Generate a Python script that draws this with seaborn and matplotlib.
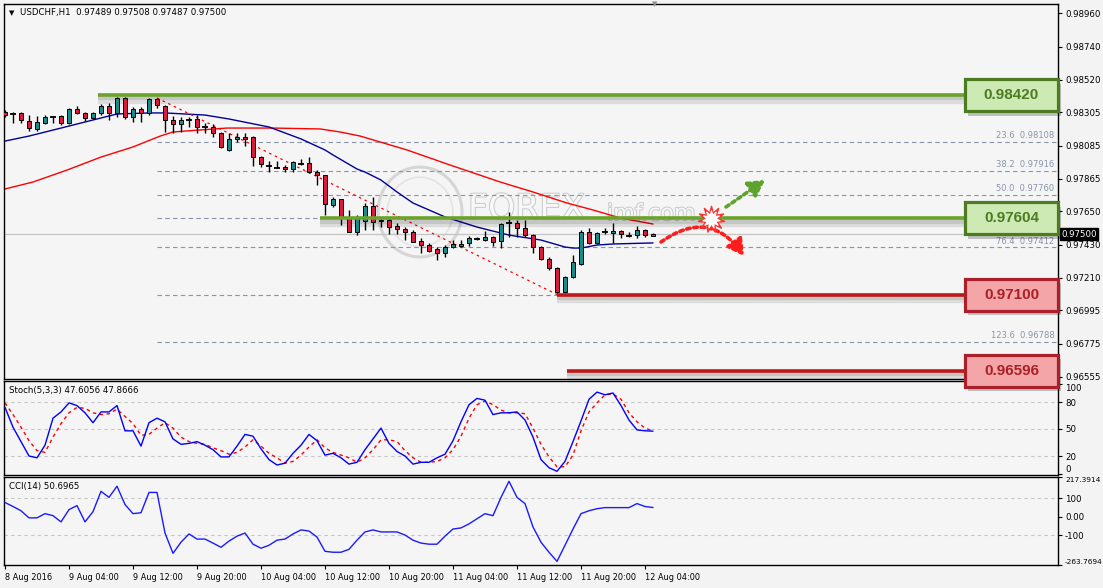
import matplotlib
matplotlib.use('Agg')
import matplotlib.pyplot as plt
import matplotlib.patheffects as pe
from matplotlib.patches import Rectangle, Ellipse
from matplotlib.text import Text
from matplotlib.transforms import blended_transform_factory
import numpy as np
import pandas as pd
import seaborn as sns

# ---------------- data ----------------
symbol = 'USDCHF,H1'
last_ohlc = ['0.97489', '0.97508', '0.97487', '0.97500']

opens = [0.98308,0.98302,0.98302,0.98249,0.98196,0.98235,0.98275,0.98282,0.98235,0.98328,
         0.98302,0.98268,0.98302,0.98348,0.98302,0.98401,0.98275,0.98328,0.98302,0.98394,
         0.98348,0.98255,0.98229,0.98255,0.98262,0.98209,0.98209,0.98169,0.98057,0.98130,
         0.98143,0.98143,0.98010,0.97951,0.97944,0.97944,0.97931,0.97971,0.97971,0.97911,
         0.97891,0.97693,0.97733,0.97614,0.97514,0.97587,0.97687,0.97587,0.97594,0.97554,
         0.97534,0.97514,0.97455,0.97428,0.97402,0.97375,0.97415,0.97422,0.97442,0.97468,
         0.97461,0.97481,0.97455,0.97571,0.97574,0.97541,0.97494,0.97415,0.97336,0.97276,
         0.97117,0.97217,0.97302,0.97514,0.97442,0.97511,0.97508,0.97521,0.97488,0.97494,
         0.97527,0.97489]
highs = [0.98321,0.98308,0.98305,0.98288,0.98282,0.98288,0.98282,0.98288,0.98335,0.98348,
         0.98308,0.98308,0.98361,0.98368,0.98407,0.98407,0.98341,0.98341,0.98401,0.98401,
         0.98354,0.98282,0.98275,0.98275,0.98288,0.98235,0.98229,0.98176,0.98169,0.98169,
         0.98169,0.98149,0.98017,0.97984,0.97984,0.97958,0.97984,0.97997,0.98010,0.97924,
         0.97891,0.97746,0.97733,0.97660,0.97627,0.97706,0.97746,0.97614,0.97614,0.97574,
         0.97547,0.97527,0.97475,0.97442,0.97415,0.97428,0.97461,0.97461,0.97488,0.97481,
         0.97521,0.97488,0.97574,0.97646,0.97594,0.97594,0.97501,0.97422,0.97349,0.97283,
         0.97223,0.97362,0.97527,0.97541,0.97514,0.97541,0.97574,0.97527,0.97514,0.97554,
         0.97534,0.97508]
lows = [0.98275,0.98235,0.98235,0.98182,0.98182,0.98229,0.98235,0.98222,0.98229,0.98295,
        0.98249,0.98262,0.98288,0.98255,0.98275,0.98262,0.98242,0.98242,0.98288,0.98335,
        0.98176,0.98169,0.98176,0.98209,0.98169,0.98169,0.98143,0.98070,0.98050,0.98110,
        0.98083,0.97951,0.97944,0.97911,0.97938,0.97911,0.97911,0.97958,0.97905,0.97825,
        0.97627,0.97680,0.97561,0.97514,0.97494,0.97527,0.97527,0.97547,0.97501,0.97501,
        0.97461,0.97448,0.97375,0.97382,0.97329,0.97349,0.97408,0.97415,0.97422,0.97461,
        0.97455,0.97422,0.97408,0.97481,0.97481,0.97481,0.97375,0.97329,0.97263,0.97101,
        0.97108,0.97210,0.97296,0.97435,0.97435,0.97501,0.97442,0.97475,0.97481,0.97475,
        0.97481,0.97487]
closes = [0.98288,0.98298,0.98255,0.98202,0.98242,0.98275,0.98272,0.98235,0.98328,0.98302,
          0.98268,0.98302,0.98348,0.98302,0.98401,0.98275,0.98328,0.98302,0.98394,0.98354,
          0.98255,0.98229,0.98255,0.98252,0.98209,0.98206,0.98169,0.98077,0.98130,0.98143,
          0.98130,0.98010,0.97964,0.97948,0.97941,0.97931,0.97977,0.97967,0.97911,0.97891,
          0.97700,0.97733,0.97607,0.97514,0.97607,0.97687,0.97580,0.97594,0.97547,0.97534,
          0.97514,0.97448,0.97428,0.97389,0.97375,0.97415,0.97435,0.97435,0.97475,0.97470,
          0.97481,0.97448,0.97567,0.97574,0.97541,0.97494,0.97415,0.97336,0.97276,0.97117,
          0.97217,0.97316,0.97514,0.97442,0.97508,0.97514,0.97521,0.97501,0.97491,0.97527,
          0.97494,0.97500]

# moving averages (bar index, price)
ma_fast_bar = [0, 3, 7, 10, 14, 18, 20, 25, 28, 33, 37, 40, 41, 44, 45, 47, 49, 51, 55, 59, 63, 67, 70, 71, 72, 74, 76, 81]
ma_fast_val = [0.98116, 0.98149, 0.98202, 0.98242, 0.98295, 0.98302, 0.98302, 0.98288, 0.98262, 0.98209,
               0.98130, 0.98057, 0.98024, 0.97931, 0.97911, 0.97858, 0.97779, 0.97706, 0.97614, 0.97547,
               0.97494, 0.97461, 0.97415, 0.97408, 0.97408, 0.97428, 0.97435, 0.97442]
ma_slow_bar = [0, 3.5, 7.75, 12, 16, 19.4, 21, 22.75, 27.75, 33.5, 39.4, 41.9, 44.4, 50.25, 55.6, 61.9, 66, 70.25, 73.5, 76.9, 81]
ma_slow_val = [0.97799, 0.97845, 0.97924, 0.98010, 0.98077, 0.98149, 0.98176, 0.98183, 0.98202, 0.98202,
               0.98196, 0.98176, 0.98149, 0.98057, 0.97958, 0.97845, 0.97779, 0.97706, 0.97660, 0.97607, 0.97567]

stoch_k = [74,52,36,20,18,32,62,69,79,76, 68,57,69,69,76,48,48,31,57,62,
           58,39,33,34,36,32,27,19,19,31, 44,42,28,16,10,12,23,32,44,37,
           21,23,18,11,13,27,39,51,34,25, 20,11,13,13,18,22,37,58,77,84,
           82,66,68,68,69,60,41,16,7,3, 14,36,59,83,91,88,90,76,60,49, 48,47.6056]
stoch_d = [79,66,52,37,26,24,41,56,68,74, 73,68,66,67,72,64,56,43,44,51,
           57,51,41,36,34,33,29,26,22,24, 30,38,31,23,18,12,14,21,30,38,
           29,24,21,18,13,18,27,38,38,36, 26,18,13,13,14,18,27,42,62,77,
           81,77,71,68,68,67,51,33,19,8, 8,21,48,69,79,88,89,83,68,58, 51,47.8666]
cci = [78,56,33,-6,-6,17,6,-28,39,61, -28,28,139,106,167,67,17,22,133,133,
       -89,-200,-139,-94,-122,-122,-144,-167,-133,-106, -89,-150,-172,-156,-128,-122,-94,-72,-78,-111,
       -189,-194,-194,-178,-128,-83,-72,-83,-83,-83, -100,-128,-144,-150,-150,-106,-67,-61,-39,-11,
       17,6,106,194,106,72,-56,-139,-194,-244, -156,-67,17,33,44,50,50,50,50,72, 56,50.6965]

time_labels = ['8 Aug 2016', '9 Aug 04:00', '9 Aug 12:00', '9 Aug 20:00', '10 Aug 04:00',
               '10 Aug 12:00', '10 Aug 20:00', '11 Aug 04:00', '11 Aug 12:00', '11 Aug 20:00',
               '12 Aug 04:00']
price_ticks = [0.98960, 0.98740, 0.98520, 0.98305, 0.98085, 0.97865, 0.97650, 0.97430,
               0.97210, 0.96995, 0.96775, 0.96555]
fib_ratios = [0.0, 23.6, 38.2, 50.0, 61.8, 76.4, 100.0, 123.6]
fib_prices = [0.98420, 0.98108, 0.97916, 0.97760, 0.97604, 0.97412, 0.97100, 0.96788]
key_levels = [0.98420, 0.97604, 0.97100, 0.96596]
current_price = 0.97500
stoch_levels = [80, 50, 20]
cci_levels = [100, -100]
stoch_ticks = [100, 80, 50, 20, 0]
cci_ticks = [217.3914, 100, 0, -100, -263.7694]
cci_tick_labels = ['217.3914', '100', '0.00', '-100', '-263.7694']

# ---------------- layout / style ----------------
W, H = 1103, 588
sns.set_theme(style='white')
plt.rcParams['font.family'] = ['DejaVu Sans']
FS = 6.2

def PX(xp, yp):
    """image pixel -> (bar, price) for decorations"""
    return ((xp - 5) / 8.0, 0.990492 - 6.616e-5 * yp)

fig = plt.figure(figsize=(W / 100, H / 100), dpi=100, facecolor='#f3f3f3')

def rect(top, bottom, left=4, right=1058):
    return [left / W, 1 - bottom / H, (right - left) / W, (bottom - top) / H]

ax = fig.add_axes(rect(4, 379))
ax_st = fig.add_axes(rect(381, 475))
ax_cc = fig.add_axes(rect(477, 565))
BG = '#f5f5f5'
for a in (ax, ax_st, ax_cc):
    a.set_facecolor(BG)
    for s in a.spines.values():
        s.set_color('black')
        s.set_linewidth(1)
    a.set_xlim(-0.125, 131.625)
    a.yaxis.tick_right()
    a.tick_params(axis='y', direction='out', length=3, width=0.8, pad=2,
                  labelsize=FS, colors='black', left=False, right=True)
    a.tick_params(axis='x', bottom=False, labelbottom=False, top=False)
    a.grid(False)

df = pd.DataFrame({'bar': np.arange(len(opens)), 'open': opens, 'high': highs,
                   'low': lows, 'close': closes})

# ---------------- main panel ----------------
ax.set_ylim(PX(0, 379)[1], PX(0, 4)[1])
ax.set_yticks(price_ticks)
ax.set_yticklabels([f'{p:.5f}' for p in price_ticks])

# fibonacci (labels of levels hidden under the key-level boxes are not drawn)
fib_start = PX(157, 0)[0]
ax.hlines(fib_prices, fib_start, 131.625, colors='#8795aa', linestyles=(0, (4, 3)), lw=0.8, zorder=1)
for r, p in zip(fib_ratios, fib_prices):
    if any(abs(p - k) < 1e-6 for k in key_levels):
        continue
    ax.text(131.2, p + 0.00012, f'{r:.1f}  {p:.5f}', ha='right', va='bottom',
            fontsize=FS - 0.2, color='#8795aa', zorder=1.2)

# current price line
ax.axhline(current_price, color='#c4c4c4', lw=0.9, zorder=1.1)

# watermark
wc = PX(420, 212)
ax.add_patch(Ellipse(wc, 10.5, 0.00595, fill=False, ec='#d6d6d6', lw=2.2, zorder=0.8))
ax.add_patch(Ellipse(wc, 8.2, 0.0046, fill=False, ec='#e3e3e3', lw=1.2, zorder=0.8))
wm_eff = [pe.withStroke(linewidth=1.4, foreground='#c9c9c9')]
ax.text(*PX(468, 209), 'FOREX', fontsize=25, color='#f8f8f8', ha='left', va='center',
        zorder=0.9, path_effects=wm_eff)
ax.text(*PX(607, 214), 'imf.com', fontsize=16, color='#f8f8f8', ha='left', va='center',
        zorder=0.9, path_effects=wm_eff)

# moving averages
sns.lineplot(x=ma_slow_bar, y=ma_slow_val, ax=ax, color='#ff0000', lw=1, zorder=2, legend=False)
sns.lineplot(x=ma_fast_bar, y=ma_fast_val, ax=ax, color='#000099', lw=1, zorder=2, legend=False)

# trend line from swing high to swing low
hi_i, lo_i = 19, 69
ax.plot([hi_i, lo_i], [highs[hi_i], lows[lo_i]], color='#ff0000', lw=0.9, ls=(0, (2, 3)), zorder=2)

# candles
bull_c, bear_c = '#138c8c', '#dc1a3e'
ax.vlines(df['bar'], df['low'], df['high'], color='black', lw=1, zorder=3)
for _, r in df.iterrows():
    b, o, c = r['bar'], r['open'], r['close']
    if abs(c - o) < 5e-5:
        ax.hlines(c, b - 0.33, b + 0.33, color='black', lw=1.3, zorder=4)
    else:
        ax.add_patch(Rectangle((b - 0.3, min(o, c)), 0.6, abs(c - o),
                               fc=bull_c if c > o else bear_c, ec='black', lw=0.7, zorder=4))

# key levels with shadows
lvl_green, lvl_red = '#6aa22a', '#c01818'
level_colors = [lvl_green, lvl_green, lvl_red, lvl_red]
level_starts = [PX(98, 0)[0], PX(320, 0)[0], PX(557, 0)[0], PX(567, 0)[0]]
box_left = PX(965, 0)[0]
for lvl, col, st in zip(key_levels, level_colors, level_starts):
    ax.hlines(lvl - 0.00030, st, box_left, color='black', alpha=0.10, lw=6, zorder=2.4)
    ax.hlines(lvl - 0.00022, st, box_left, color='black', alpha=0.10, lw=3, zorder=2.4)
    ax.hlines(lvl, st, box_left, color=col, lw=2.6, zorder=5)

# label boxes
hh = 16 * 6.616e-5
box_w = 131.625 - box_left
box_styles = [('#cdeab4', '#4e7b22'), ('#cdeab4', '#4e7b22'), ('#f3a5a8', '#a8202a'), ('#f3a5a8', '#a8202a')]
for lvl, (fc, ec) in zip(key_levels, box_styles):
    sh = Rectangle((box_left + 0.35, lvl - hh - 0.00030), box_w, 2 * hh, transform=ax.transData,
                   fc='black', alpha=0.22, ec='none', zorder=4)
    fig.add_artist(sh)
    bx = Rectangle((box_left, lvl - hh), box_w, 2 * hh, transform=ax.transData,
                   fc=fc, ec=ec, lw=2.3, zorder=5)
    fig.add_artist(bx)
    tx = Text(box_left + box_w / 2, lvl, f'{lvl:.5f}', transform=ax.transData, ha='center',
              va='center', fontsize=11, fontweight='bold', family='Liberation Sans', color=ec, zorder=6)
    fig.add_artist(tx)

# current price tag
bt = blended_transform_factory(ax.transAxes, ax.transData)
ax.text(1.003, current_price, '0.97500', transform=bt, ha='left', va='center', fontsize=FS,
        color='white', clip_on=False, zorder=7,
        bbox=dict(boxstyle='square,pad=0.15', fc='black', ec='black'))

# scenario arrows + burst
ax.annotate('', xy=PX(765, 180), xytext=PX(726, 207),
            arrowprops=dict(arrowstyle='-|>,head_length=0.8,head_width=0.45', color='#5ea22e',
                            lw=2.6, linestyle=(0, (1, 1)), shrinkA=0, shrinkB=0), zorder=6)
ax.annotate('', xy=PX(744, 256), xytext=PX(661, 242),
            arrowprops=dict(arrowstyle='-|>,head_length=0.8,head_width=0.45', color='#ff1c1c',
                            lw=2.6, linestyle=(0, (1, 1)), shrinkA=0, shrinkB=0,
                            connectionstyle='arc3,rad=-0.5'), zorder=6)
bx_, by_ = PX(711, 219)
ax.scatter([bx_], [by_], marker=(11, 1, 0), s=360, c='#ff3030', edgecolors='#ff3030', zorder=7)
ax.scatter([bx_], [by_], marker=(11, 1, 0), s=150, c='white', edgecolors='white', zorder=7.1)

# ---------------- stochastic ----------------
bars = np.arange(len(stoch_k))
ax_st.set_ylim(20 - 19 / 0.9, 80 + 21 / 0.9)
for lv in stoch_levels:
    ax_st.axhline(lv, color='#c6c6c6', lw=0.8, ls=(0, (3, 3)), zorder=1)
sns.lineplot(x=bars, y=stoch_k, ax=ax_st, color='#0000ff', lw=1, legend=False, zorder=3)
sns.lineplot(x=bars, y=stoch_d, ax=ax_st, color='#ff0000', lw=1, linestyle=(0, (2.5, 2.5)),
             legend=False, zorder=2)
ax_st.set_yticks(stoch_ticks)
ax_st.set_yticklabels([str(v) for v in stoch_ticks])
labs = ax_st.get_yticklabels()
labs[0].set_va('top')
labs[-1].set_va('bottom')

# ---------------- CCI ----------------
ax_cc.set_ylim(cci_ticks[-1], cci_ticks[0])
for lv in cci_levels:
    ax_cc.axhline(lv, color='#c6c6c6', lw=0.8, ls=(0, (3, 3)), zorder=1)
sns.lineplot(x=np.arange(len(cci)), y=cci, ax=ax_cc, color='#1a1aff', lw=1, legend=False, zorder=3)
ax_cc.set_yticks(cci_ticks)
ax_cc.set_yticklabels(cci_tick_labels)
labs = ax_cc.get_yticklabels()
labs[0].set_va('top')
labs[-1].set_va('bottom')
for lab in (labs[0], labs[-1]):
    lab.set_fontsize(5.3)

ax_cc.set_xticks(np.arange(0, 8 * len(time_labels), 8))
ax_cc.set_xticklabels(time_labels, ha='left')
ax_cc.tick_params(axis='x', bottom=True, labelbottom=True, direction='out', length=3, width=0.8,
                  pad=3, labelsize=FS - 0.3, colors='black')
for a in (ax, ax_st, ax_cc):
    a.set_xlabel('')
    a.set_ylabel('')

# ---------------- titles ----------------
def ftext(xp, yp, s, **kw):
    fig.text(xp / W, 1 - yp / H, s, **kw)

ftext(12, 13, '\u25bc', fontsize=5, ha='center', va='center', color='black')
ftext(20, 13, f"{symbol}  {' '.join(last_ohlc)}", fontsize=FS, ha='left', va='center', color='black')
ftext(9, 390, f'Stoch(5,3,3) {stoch_k[-1]:.4f} {stoch_d[-1]:.4f}', fontsize=FS, ha='left',
      va='center', color='black')
ftext(9, 487, f'CCI(14) {cci[-1]:.4f}', fontsize=FS, ha='left', va='center', color='black')
ftext(655, 4, '\u25bc', fontsize=5, ha='center', va='center', color='#909090')

fig.savefig('out.png', dpi=100, facecolor=fig.get_facecolor())
